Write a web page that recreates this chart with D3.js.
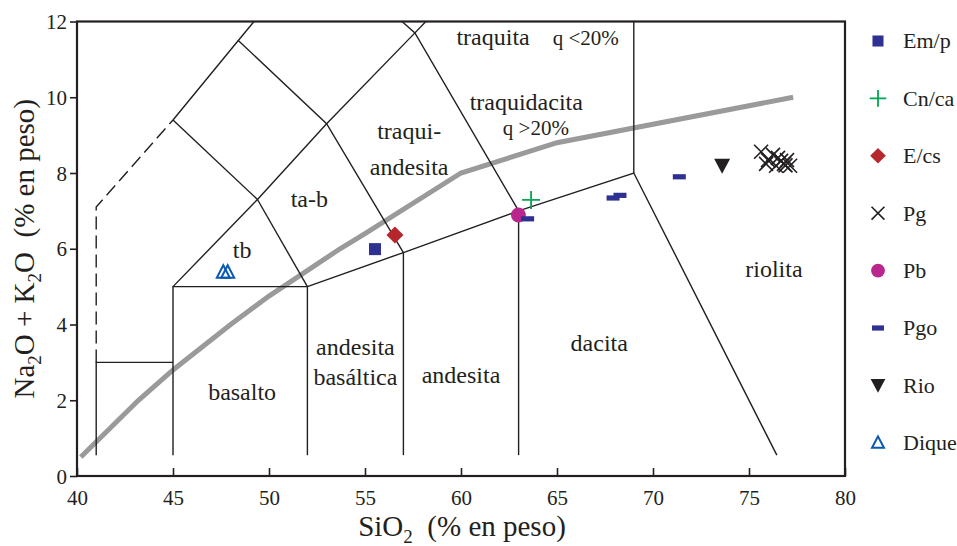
<!DOCTYPE html>
<html><head><meta charset="utf-8">
<script src="https://cdn.jsdelivr.net/npm/d3@7"></script>
<style>body{margin:0;background:#fff;} svg{display:block;font-family:"Liberation Serif","Times New Roman",serif;} text{font-family:"Liberation Serif","Times New Roman",serif;}</style>
</head><body>
<svg id="c" width="957" height="546"></svg>
<script>
// ---------- data ----------
const xTicks = [40,45,50,55,60,65,70,75,80];
const yTicks = [0,2,4,6,8,10,12];

// TAS field boundaries (SiO2, Na2O+K2O)
const solidBoundaries = [
  [[41,0.55],[41,3],[45,3]],
  [[45,0.55],[45,5],[52,5],[52,0.55]],
  [[52,5],[57,5.9],[63,7],[69,8],[76.45,0.55]],
  [[57,0.55],[57,5.9]],
  [[63,0.55],[63,7]],
  [[69,8],[69,12]],
  [[45,5],[49.4,7.3],[53,9.3],[57.6,11.7],[58.17,12]],
  [[49.4,7.3],[52,5]],
  [[45,9.4],[48.4,11.5],[49.22,12]],
  [[45,9.4],[49.4,7.3]],
  [[48.4,11.5],[53,9.3],[57,5.9]],
  [[56.93,12],[57.6,11.7],[63,7]]
];
const dashedBoundary = [[41,3],[41,7.1],[45,9.4]];

// Irvine & Baragar alkaline / subalkaline divide
const alkalineLine = [[40.2,0.5],[43.2,2],[45,2.8],[48,4],[50,4.75],[53.7,6],[55,6.4],[60,8],[65,8.8],[77.3,10]];

// field labels: [text, SiO2, alkali(baseline), size]
const fieldLabels = [
  ["traquita",61.67,11.38,24],["q <20%",66.5,11.38,21],
  ["traquidacita",63.4,9.66,24],["q >20%",63.9,9.0,21],
  ["traqui-",57.3,8.9,24],["andesita",57.3,7.95,24],
  ["ta-b",52.1,7.1,24],["tb",48.6,5.75,24],
  ["basalto",48.6,2.0,24],
  ["andesita",54.5,3.2,24],["basáltica",54.5,2.4,24],
  ["andesita",60,2.45,24],["dacita",67.2,3.3,24],["riolita",76.3,5.25,24]
];

// samples
const legendNames = ["Em/p","Cn/ca","E/cs","Pg","Pb","Pgo","Rio","Dique"];
const emp   = [[55.52,5.99]];
const cnca  = [[63.65,7.29]];
const ecs   = [[56.56,6.36]];
const pg    = [[75.63,8.56],[75.99,8.34],[76.25,8.48],[76.51,8.40],[76.67,8.32],[76.82,8.24],[76.98,8.34],[77.14,8.19],[75.89,8.24],[76.41,8.19],[76.9,8.2]];
const pb    = [[62.99,6.89]];
const pgo   = [[63.47,6.79],[67.92,7.34],[68.28,7.41],[71.37,7.90]];
const rio   = [[73.6,8.19]];
const dique = [[47.62,5.38],[47.85,5.38]];

// ---------- drawing ----------
const svg = d3.select("#c");
const x = d3.scaleLinear().domain([40,80]).range([77,845]);
const y = d3.scaleLinear().domain([0,12]).range([476,21.5]);
const ink = "#231f20";
const serif = "'Liberation Serif','Times New Roman',serif";
const line = d3.line().x(d=>x(d[0])).y(d=>y(d[1]));

// gray line (under boundaries)
svg.append("path").attr("d", line(alkalineLine)).attr("fill","none")
  .attr("stroke","#9a9a9a").attr("stroke-width",5);

// boundaries
svg.selectAll("path.b").data(solidBoundaries).join("path").attr("class","b")
  .attr("d", line).attr("fill","none").attr("stroke",ink).attr("stroke-width",1.4);
svg.append("path").attr("d", line(dashedBoundary)).attr("fill","none")
  .attr("stroke",ink).attr("stroke-width",1.4).attr("stroke-dasharray","13,6");

// frame
svg.append("rect").attr("x",x(40)).attr("y",y(12)).attr("width",x(80)-x(40)).attr("height",y(0)-y(12))
  .attr("fill","none").attr("stroke",ink).attr("stroke-width",2.2);

// axes
const xa = svg.append("g").attr("transform",`translate(0,${y(0)})`)
  .call(d3.axisBottom(x).tickValues(xTicks).tickSize(-8).tickPadding(14).tickFormat(d3.format("d")));
const ya = svg.append("g").attr("transform",`translate(${x(40)},0)`)
  .call(d3.axisLeft(y).tickValues(yTicks).tickSize(7).tickPadding(3).tickFormat(d3.format("d")));
[xa,ya].forEach(g=>{
  g.attr("font-family",null).attr("font-size",null);
  g.select(".domain").remove();
  g.selectAll("line").attr("stroke",ink).attr("stroke-width",1.6);
  g.selectAll("text").attr("fill",ink).style("font-size","21px").style("font-family",serif);
});
xa.selectAll("text").attr("dy","0.71em");
ya.selectAll("text").attr("dy","0.34em");

// field labels
svg.selectAll("text.f").data(fieldLabels).join("text").attr("class","f")
  .attr("x",d=>x(d[1])).attr("y",d=>y(d[2])).attr("text-anchor","middle")
  .attr("fill",ink).style("font-family",serif).style("font-size",d=>d[3]+"px").text(d=>d[0]);

// axis titles
const xt = svg.append("text").attr("x",462).attr("y",536).attr("text-anchor","middle")
  .attr("fill",ink).style("font-family",serif).style("font-size","29px");
xt.append("tspan").text("SiO");
xt.append("tspan").attr("dy",7).style("font-size","19px").text("2");
xt.append("tspan").attr("dy",-7).text("\u00a0\u00a0(% en peso)");

const yt = svg.append("text").attr("transform",`translate(34,${(y(0)+y(12))/2}) rotate(-90)`)
  .attr("text-anchor","middle").attr("fill",ink).style("font-family",serif).style("font-size","29px");
yt.append("tspan").text("Na");
yt.append("tspan").attr("dy",7).style("font-size","19px").text("2");
yt.append("tspan").attr("dy",-7).text("O + K");
yt.append("tspan").attr("dy",7).style("font-size","19px").text("2");
yt.append("tspan").attr("dy",-7).text("O\u00a0\u00a0(% en peso)");

// marker drawers
const C = {emp:"#2e3192", cnca:"#00a651", ecs:"#b5262d", pg:ink, pb:"#b8268e", pgo:"#2e3192", rio:ink, dique:"#0a58b0"};
const drawers = {
  emp:(g,s=1)=>g.append("rect").attr("x",-6*s).attr("y",-6*s).attr("width",12*s).attr("height",12*s).attr("fill",C.emp),
  cnca:(g,s=1)=>g.append("path").attr("d",`M${-9*s},0H${9*s}M0,${-9*s}V${9*s}`).attr("stroke",C.cnca).attr("stroke-width",1.8).attr("fill","none"),
  ecs:(g,s=1)=>g.append("path").attr("d",`M0,${-8.5*s}L${8.5*s},0L0,${8.5*s}L${-8.5*s},0Z`).attr("fill",C.ecs),
  pg:(g,s=1)=>g.append("path").attr("d",`M${-7*s},${-7*s}L${7*s},${7*s}M${7*s},${-7*s}L${-7*s},${7*s}`).attr("stroke",C.pg).attr("stroke-width",1.6).attr("fill","none"),
  pb:(g,s=1)=>g.append("circle").attr("r",7.5*s).attr("fill",C.pb),
  pgo:(g,s=1)=>g.append("rect").attr("x",-6.5*s).attr("y",-2.6).attr("width",13*s).attr("height",5.2).attr("fill",C.pgo),
  rio:(g,s=1)=>g.append("path").attr("d",`M${-8*s},${-7*s}L${8*s},${-7*s}L0,${8*s}Z`).attr("fill",C.rio),
  dique:(g,s=1)=>g.append("path").attr("d",`M0,${-7*s}L${6.5*s},${5.5*s}L${-6.5*s},${5.5*s}Z`).attr("fill","none").attr("stroke",C.dique).attr("stroke-width",2)
};
const series = [["emp",emp],["cnca",cnca],["ecs",ecs],["pg",pg],["pb",pb],["pgo",pgo],["rio",rio],["dique",dique]];
series.forEach(([k,data])=>{
  data.forEach(p=>{
    const g = svg.append("g").attr("transform",`translate(${x(p[0])},${y(p[1])})`);
    drawers[k](g);
  });
});

// legend
series.forEach(([k],i)=>{
  const yy = 41 + i*57.4;
  const g = svg.append("g").attr("transform",`translate(878,${yy})`);
  drawers[k](g,0.92);
  svg.append("text").attr("x",903).attr("y",yy).attr("dy","0.34em").attr("fill",ink)
    .style("font-family",serif).style("font-size","22px").text(legendNames[i]);
});
</script>
</body></html>
